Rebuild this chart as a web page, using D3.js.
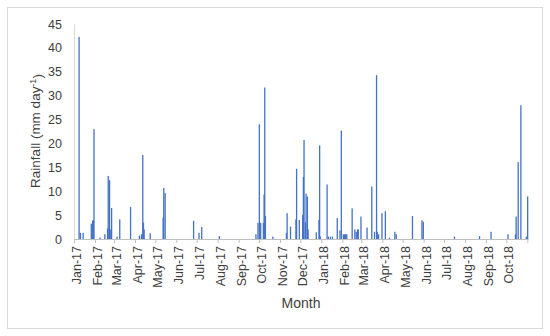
<!DOCTYPE html>
<html>
<head>
<meta charset="utf-8">
<script src="https://cdn.jsdelivr.net/npm/d3@7"></script>
<style>
  body { margin: 0; background: #fff; }
  text { font-family: "Liberation Sans", Arial, sans-serif; fill: #404040; }
</style>
</head>
<body>
<svg id="chart" width="550" height="336"></svg>
<script>
// daily rainfall records (mm/day)
var dates = [
  "2017-01-08","2017-01-10","2017-01-14","2017-01-26","2017-01-28","2017-01-29","2017-01-30",
  "2017-02-08","2017-02-15","2017-02-19","2017-02-20","2017-02-22","2017-02-23","2017-02-25",
  "2017-03-05","2017-03-09","2017-03-25",
  "2017-04-07","2017-04-10","2017-04-12","2017-04-13","2017-04-14","2017-04-23",
  "2017-05-12","2017-05-13","2017-05-15",
  "2017-06-26","2017-07-04","2017-07-08","2017-08-03",
  "2017-09-26","2017-09-29","2017-10-01","2017-10-03","2017-10-07","2017-10-08","2017-10-09","2017-10-10",
  "2017-10-21",
  "2017-11-10","2017-11-11","2017-11-16","2017-11-24","2017-11-25","2017-11-29",
  "2017-12-04","2017-12-05","2017-12-06","2017-12-08","2017-12-09","2017-12-11","2017-12-12",
  "2017-12-24","2017-12-28","2017-12-29","2017-12-30",
  "2018-01-09","2018-01-11","2018-01-14","2018-01-17","2018-01-24","2018-01-28","2018-01-30",
  "2018-02-02","2018-02-04","2018-02-05","2018-02-07","2018-02-15","2018-02-19","2018-02-21",
  "2018-02-23","2018-02-24","2018-02-28",
  "2018-03-09","2018-03-16","2018-03-20","2018-03-23","2018-03-24","2018-03-26","2018-03-31",
  "2018-04-05","2018-04-11","2018-04-19","2018-04-21",
  "2018-05-15","2018-05-29","2018-05-31",
  "2018-07-16","2018-08-22","2018-09-08",
  "2018-10-03","2018-10-14","2018-10-15","2018-10-18","2018-10-22","2018-10-30","2018-11-01"
];
var rain = [
  42.3, 1.3, 1.3, 3.2, 3.8, 4.0, 23.0,
  0.3, 1.0, 2.2, 13.2, 12.3, 2.0, 6.5,
  0.5, 4.1, 6.7,
  0.7, 1.0, 17.6, 3.4, 2.0, 1.2,
  4.5, 10.7, 9.6,
  3.8, 1.3, 2.5, 0.6,
  1.0, 3.4, 24.0, 3.4, 3.4, 9.3, 31.7, 4.8,
  0.5,
  1.3, 5.4, 2.6, 4.1, 14.7, 4.0,
  5.0, 13.0, 20.7, 3.5, 9.5, 8.9, 2.0,
  1.4, 4.0, 19.6, 0.5,
  11.4, 0.5, 0.5, 0.5, 4.4, 1.8, 22.7,
  1.0, 1.0, 1.0, 1.0, 6.4, 2.0, 1.5,
  2.0, 2.0, 4.7,
  2.4, 11.0, 1.5, 34.3, 1.5, 1.0, 5.4,
  5.8, 0.3, 1.5, 1.0,
  4.8, 3.9, 3.6,
  0.5, 0.6, 1.5,
  1.0, 1.0, 4.7, 16.1, 28.0, 0.5, 8.9
];
var yTicks = [0, 5, 10, 15, 20, 25, 30, 35, 40, 45];

(function() {
  var parse = d3.utcParse("%Y-%m-%d");
  var svg = d3.select("#chart");

  // chart frame
  svg.append("rect")
    .attr("x", 7.5).attr("y", 7.5)
    .attr("width", 535).attr("height", 321)
    .attr("fill", "#fff").attr("stroke", "#d9d9d9");

  var plotLeft = 74, plotRight = 528, plotTop = 24, plotBottom = 239;

  var x = d3.scaleUtc()
    .domain([parse("2017-01-01"), parse("2018-11-02")])
    .range([plotLeft, plotRight]);
  var y = d3.scaleLinear().domain([0, 45]).range([plotBottom, plotTop]);

  var dayW = x(parse("2017-01-02")) - x(parse("2017-01-01"));
  var barW = 1.3;

  // y axis
  var yAxis = svg.append("g")
    .attr("transform", "translate(" + plotLeft + ",0)")
    .call(d3.axisLeft(y).tickValues(yTicks).tickSize(0).tickPadding(12));
  yAxis.select(".domain").attr("stroke", "#d9d9d9");
  yAxis.selectAll("text").style("font-size", "12.5px").attr("fill", "#404040");

  // x axis, one tick per month
  var months = d3.utcMonth.range(parse("2017-01-01"), parse("2018-11-02"));
  var fmt = d3.utcFormat("%b-%y");
  var xAxis = svg.append("g")
    .attr("transform", "translate(0," + plotBottom + ")")
    .call(d3.axisBottom(x).tickValues(months).tickSize(4).tickSizeOuter(0)
      .tickFormat(function(d) {
        return d.getUTCFullYear() === 2018 && d.getUTCMonth() === 10 ? "" : fmt(d);
      }));
  xAxis.select(".domain").attr("stroke", "#bfbfbf");
  xAxis.selectAll(".tick line").attr("stroke", "#bfbfbf");
  xAxis.selectAll("text")
    .style("font-size", "12.5px").attr("fill", "#404040")
    .attr("text-anchor", "end")
    .attr("transform", "rotate(-90)")
    .attr("x", -7).attr("y", 2).attr("dy", "0.35em");

  // bars
  svg.append("g").selectAll("rect")
    .data(dates.map(function(d, i) { return { date: parse(d), v: rain[i] }; }))
    .join("rect")
    .attr("x", function(d) { return x(d.date) + dayW / 2 - barW / 2; })
    .attr("y", function(d) { return y(d.v); })
    .attr("width", barW)
    .attr("height", function(d) { return plotBottom - y(d.v); })
    .attr("fill", "#4472c4");

  // axis titles
  var yt = svg.append("text")
    .attr("transform", "translate(40,131) rotate(-90)")
    .attr("text-anchor", "middle")
    .style("font-size", "13.5px");
  yt.append("tspan").text("Rainfall (mm day");
  yt.append("tspan").attr("dy", "-0.45em").style("font-size", "9px").text("-1");
  yt.append("tspan").attr("dy", "0.45em").text(")");

  svg.append("text")
    .attr("x", 301).attr("y", 308)
    .attr("text-anchor", "middle")
    .style("font-size", "14px")
    .text("Month");
})();
</script>
</body>
</html>
